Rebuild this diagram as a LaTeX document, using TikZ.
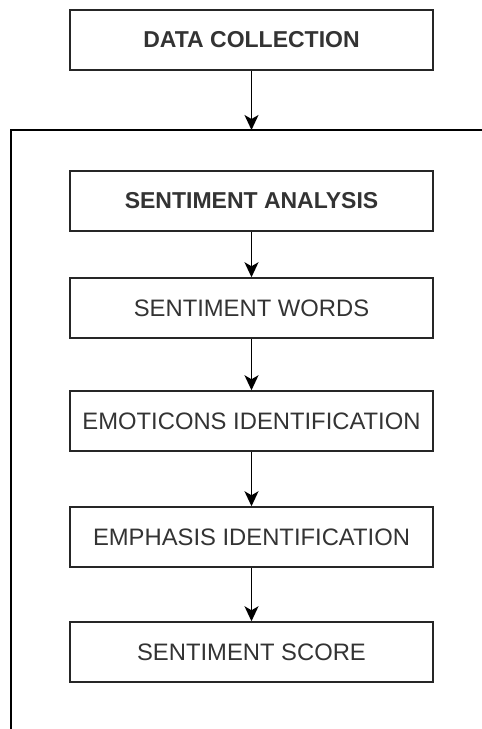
\documentclass[tikz,border=0pt]{standalone}
\usepackage{fontspec}
\setmainfont{Liberation Sans}
\usetikzlibrary{arrows.meta}
\begin{document}
\begin{tikzpicture}[x=1pt,y=-1pt,
  box/.style={draw=black!85, line width=1.5pt, minimum width=363pt, minimum height=60pt, inner sep=0pt, text=black!80, font=\fontsize{23.8}{26}\selectfont},
  boldbox/.style={box, font=\fontsize{23}{26}\selectfont\bfseries},
  conn/.style={draw=black, line width=1.5pt, -{Stealth[length=15pt,width=14pt,inset=4pt]}},
  frame/.style={draw=black, line width=1.5pt}]
\useasboundingbox (0,0) rectangle (482,729);
\node[boldbox] (dc) at (251.5,40) {DATA COLLECTION};
\coordinate (ctop) at (251.5,130);
\draw[frame] (11,729) -- (11,130) -- (482,130);
\node[boldbox] (sa) at (251.5,201) {SENTIMENT ANALYSIS};
\node[box] (sw) at (251.5,308) {SENTIMENT WORDS};
\node[box] (ei) at (251.5,421) {EMOTICONS IDENTIFICATION};
\node[box] (em) at (251.5,537) {EMPHASIS IDENTIFICATION};
\node[box] (ss) at (251.5,652) {SENTIMENT SCORE};
\draw[conn] (dc) -- (ctop);
\draw[conn] (sa) -- (sw);
\draw[conn] (sw) -- (ei);
\draw[conn] (ei) -- (em);
\draw[conn] (em) -- (ss);
\end{tikzpicture}
\end{document}
